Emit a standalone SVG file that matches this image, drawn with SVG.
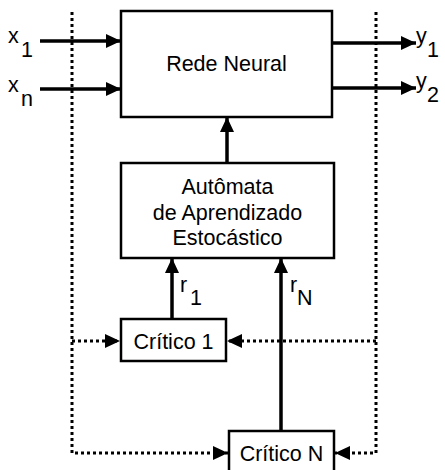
<svg xmlns="http://www.w3.org/2000/svg" width="445" height="470" viewBox="0 0 445 470">
<style>
.box{fill:#fff;stroke:#000;stroke-width:2.5}
.t{font-family:"Liberation Sans",Arial,sans-serif;font-size:21.5px;fill:#000}
.c{text-anchor:middle}
.solid{stroke:#000;stroke-width:3.5;fill:none}
.dot{stroke:#000;stroke-width:3;fill:none;stroke-dasharray:3 3}
</style>
<defs>
<marker id="ah" markerUnits="userSpaceOnUse" markerWidth="15" markerHeight="14" refX="15" refY="7" orient="auto">
<path d="M0,0 L15,7 L0,14 z" fill="#000"/>
</marker>
</defs>
<rect width="445" height="470" fill="#fff"/>
<g id="connectors">
<path class="dot" d="M72,12 V453 H228" marker-end="url(#ah)"/>
<path class="dot" d="M72,341 H120" marker-end="url(#ah)"/>
<path class="dot" d="M376,12 V453 H335" marker-end="url(#ah)"/>
<path class="dot" d="M376,341 H227" marker-end="url(#ah)"/>
<line class="solid" x1="40" y1="41" x2="121" y2="41" marker-end="url(#ah)"/>
<line class="solid" x1="40" y1="89" x2="121" y2="89" marker-end="url(#ah)"/>
<line class="solid" x1="332" y1="43" x2="416" y2="43" marker-end="url(#ah)"/>
<line class="solid" x1="332" y1="88" x2="416" y2="88" marker-end="url(#ah)"/>
<line class="solid" x1="227" y1="163" x2="227" y2="117" marker-end="url(#ah)"/>
<line class="solid" x1="172" y1="319" x2="172" y2="258" marker-end="url(#ah)"/>
<line class="solid" x1="281" y1="431" x2="281" y2="258" marker-end="url(#ah)"/>
</g>
<g id="rede-neural">
<rect class="box" x="121" y="11" width="211" height="106"/>
<text class="t c" x="226.5" y="71">Rede Neural</text>
</g>
<g id="automata">
<rect class="box" x="121" y="163" width="213" height="95"/>
<text class="t c" x="227.5" y="194">Autômata</text>
<text class="t c" x="227.5" y="220">de Aprendizado</text>
<text class="t c" x="227.5" y="245">Estocástico</text>
</g>
<g id="critico-1">
<rect class="box" x="121" y="319" width="105" height="42"/>
<text class="t c" x="173.5" y="349">Crítico 1</text>
</g>
<g id="critico-n">
<rect class="box" x="229" y="431" width="105" height="45"/>
<text class="t c" x="281.5" y="461">Crítico N</text>
</g>
<g id="labels">
<text class="t" x="8" y="43">x</text><text class="t" x="21" y="57">1</text>
<text class="t" x="8" y="92">x</text><text class="t" x="21" y="106">n</text>
<text class="t" x="416" y="43">y</text><text class="t" x="427" y="57">1</text>
<text class="t" x="416" y="88">y</text><text class="t" x="427" y="102">2</text>
<text class="t" x="180" y="292">r</text><text class="t" x="190" y="305">1</text>
<text class="t" x="290" y="292">r</text><text class="t" x="297" y="305">N</text>
</g>
</svg>
